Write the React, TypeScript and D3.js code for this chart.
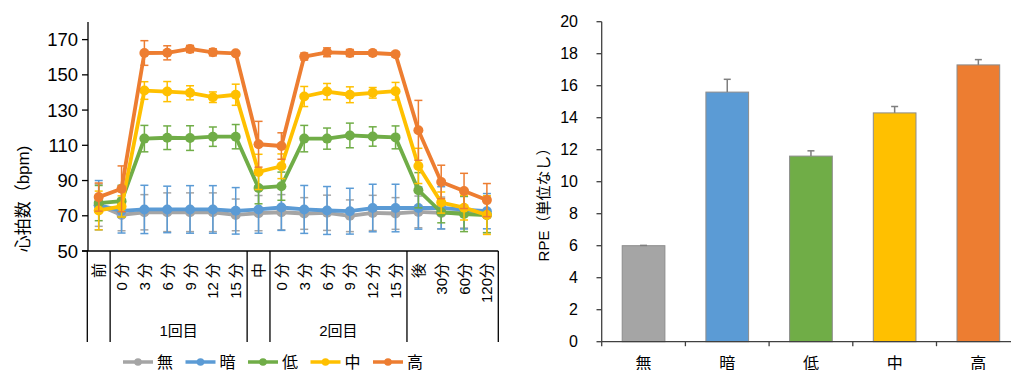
import React from "react";
import * as d3 from "d3";

// x categories of the heart-rate chart
const timeLabels = ["前", "0 分", "3 分", "6 分", "9 分", "12 分", "15 分", "中", "0 分", "3 分", "6 分", "9 分", "12 分", "15 分", "後", "30分", "60分", "120分"];
const groupLabels = ["", "1回目", "", "2回目", ""];
const groupSizes = [1, 6, 1, 6, 4];

const seriesNames = ["無", "暗", "低", "中", "高"];
const seriesColors = ["#A5A5A5", "#5B9BD5", "#70AD47", "#FFC000", "#ED7D31"];

// heart rate (bpm), mean and error
const hrNone = [76, 70.5, 72, 72, 72, 72, 70.5, 71.5, 72, 71.3, 71.7, 70, 71.6, 71.3, 72.2, 71.6, 72, 70.4];
const hrNoneErr = [12, 9, 10, 11, 11, 11, 9, 10, 10, 9, 10, 9, 10, 9, 9, 9, 9, 10];
const hrDark = [76, 72.8, 73.6, 73.6, 73.6, 73.6, 72.8, 73.6, 74.7, 73.6, 73.0, 72.6, 74.4, 74.4, 74.4, 74.5, 73.5, 72.6];
const hrDarkErr = [14, 12.6, 13.7, 13.2, 13.5, 13.5, 13.2, 13.5, 13, 13.6, 13.6, 13, 13.5, 13.5, 12, 12, 11, 10];
const hrLow = [77.2, 78.3, 113.8, 114.3, 114.1, 114.9, 114.9, 85.8, 86.8, 113.8, 113.8, 115.6, 115.0, 114.5, 84.5, 72, 71, 70.4];
const hrLowErr = [10, 9, 7.5, 6.7, 7, 5.5, 6.9, 9, 8, 7.5, 6, 7, 5.5, 6.5, 10, 6, 10, 10];
const hrMid = [73.0, 75.3, 141.1, 140.5, 139.8, 137.3, 138.7, 94.9, 98.1, 137.7, 140.5, 138.7, 139.8, 140.7, 98.3, 77.5, 74.6, 70.4];
const hrMidErr = [11, 6, 5, 5.7, 4, 3, 6, 10, 7, 5.7, 4.6, 4.5, 3, 5, 10, 6, 7, 11];
const hrHigh = [80.6, 85.3, 162.4, 162.5, 164.7, 162.8, 162.2, 110.6, 109.6, 160.4, 162.8, 162.4, 162.4, 161.7, 118.5, 89.2, 84.1, 78.9];
const hrHighErr = [8, 13, 7, 4, 2, 2, 1, 13, 7.5, 2, 2.5, 2, 1.5, 1.5, 17, 9.5, 10, 9.4];

const hrTicks = [50, 70, 90, 110, 130, 150, 170];

// RPE bar chart
const rpeMeans = [6.0, 15.6, 11.6, 14.3, 17.3];
const rpeErr = [0.02, 0.8, 0.33, 0.4, 0.33];
const rpeTicks = [0, 2, 4, 6, 8, 10, 12, 14, 16, 18, 20];

const font = "'Liberation Sans', 'Noto Sans CJK JP', sans-serif";

export default function App() {
  const hrSeries = [
    { m: hrNone, e: hrNoneErr },
    { m: hrDark, e: hrDarkErr },
    { m: hrLow, e: hrLowErr },
    { m: hrMid, e: hrMidErr },
    { m: hrHigh, e: hrHighErr },
  ];

  // left chart
  const x = d3.scaleBand<number>().domain(d3.range(timeLabels.length)).range([87.3, 498.3]);
  const cx = (i: number) => (x(i) as number) + x.bandwidth() / 2;
  const y = d3.scaleLinear().domain([50, 180]).range([251, 22]);
  const line = d3.line<number>().x((d, i) => cx(i)).y((d) => y(d));

  const bounds: number[] = [0];
  groupSizes.forEach((s, i) => bounds.push(bounds[i] + s));
  const bx = (k: number) => 87.3 + k * x.step();

  // right chart
  const xb = d3.scaleBand<string>().domain(seriesNames).range([601.7, 1020.2]).paddingInner(0.49).paddingOuter(0.245);
  const yb = d3.scaleLinear().domain([0, 20]).range([341.7, 21.7]);

  return (
    <svg width={1011} height={370} style={{ position: "absolute", left: 0, top: 0, background: "#fff" }} fontFamily={font}>
      {/* left y axis */}
      <line x1={88} x2={88} y1={y(180)} y2={y(50)} stroke="#000" strokeWidth={1.3} />
      {hrTicks.map((t) => (
        <g key={t}>
          <line x1={82} x2={88} y1={y(t)} y2={y(t)} stroke="#000" strokeWidth={1.3} />
          <text x={78} y={y(t)} textAnchor="end" dominantBaseline="central" fontSize={18.5} fill="#000">{t}</text>
        </g>
      ))}
      <text transform={`translate(23,199) rotate(-90)`} textAnchor="middle" dominantBaseline="central" fontSize={17} fill="#000">心拍数（bpm)</text>

      {/* left x axis with multi-level labels */}
      <line x1={82} x2={bx(18)} y1={251} y2={251} stroke="#000" strokeWidth={1.3} />
      {bounds.map((k) => (
        <line key={k} x1={bx(k)} x2={bx(k)} y1={251} y2={342} stroke="#000" strokeWidth={1.3} />
      ))}
      {timeLabels.map((l, i) => (
        <text key={i} transform={`translate(${cx(i)},263) rotate(-90)`} textAnchor="end" dominantBaseline="central" fontSize={15} fill="#000">{l}</text>
      ))}
      {groupLabels.map((g, i) =>
        g ? (
          <text key={i} x={(bx(bounds[i]) + bx(bounds[i + 1])) / 2} y={330} textAnchor="middle" dominantBaseline="central" fontSize={15} fill="#000">{g}</text>
        ) : null
      )}

      {/* series */}
      {hrSeries.map((s, si) => (
        <g key={si}>
          {s.m.map((v, i) => (
            <g key={i} stroke={seriesColors[si]} strokeWidth={1.5}>
              <line x1={cx(i)} x2={cx(i)} y1={y(v - s.e[i])} y2={y(v + s.e[i])} />
              <line x1={cx(i) - 4} x2={cx(i) + 4} y1={y(v - s.e[i])} y2={y(v - s.e[i])} />
              <line x1={cx(i) - 4} x2={cx(i) + 4} y1={y(v + s.e[i])} y2={y(v + s.e[i])} />
            </g>
          ))}
          <path d={line(s.m) as string} fill="none" stroke={seriesColors[si]} strokeWidth={3.8} strokeLinejoin="round" />
          {s.m.map((v, i) => (
            <circle key={i} cx={cx(i)} cy={y(v)} r={5} fill={seriesColors[si]} />
          ))}
        </g>
      ))}

      {/* legend */}
      {seriesNames.map((n, i) => {
        const lx = 123 + i * 62.5;
        return (
          <g key={n}>
            <line x1={lx} x2={lx + 30} y1={362} y2={362} stroke={seriesColors[i]} strokeWidth={3.5} />
            <circle cx={lx + 15} cy={362} r={3.8} fill={seriesColors[i]} />
            <text x={lx + 34} y={362} dominantBaseline="central" fontSize={16} fill="#000">{n}</text>
          </g>
        );
      })}

      {/* right chart axes */}
      <line x1={601.7} x2={601.7} y1={yb(20)} y2={yb(0)} stroke="#404040" strokeWidth={1.3} />
      {rpeTicks.map((t) => (
        <g key={t}>
          <line x1={596.5} x2={601.7} y1={yb(t)} y2={yb(t)} stroke="#404040" strokeWidth={1.3} />
          <text x={578} y={yb(t)} textAnchor="end" dominantBaseline="central" fontSize={16} fill="#000">{t}</text>
        </g>
      ))}
      <text transform={`translate(543,201) rotate(-90)`} textAnchor="middle" dominantBaseline="central" fontSize={15} fill="#000">RPE（単位なし）</text>

      {rpeMeans.map((v, i) => {
        const bxx = xb(seriesNames[i]) as number;
        const mid = bxx + xb.bandwidth() / 2;
        return (
          <g key={i}>
            <rect x={bxx} y={yb(v)} width={xb.bandwidth()} height={yb(0) - yb(v)} fill={seriesColors[i]} stroke="#8c8c8c" strokeWidth={1} />
            <line x1={mid} x2={mid} y1={yb(v)} y2={yb(v + rpeErr[i])} stroke="#7f7f7f" strokeWidth={1.5} />
            <line x1={mid - 3.5} x2={mid + 3.5} y1={yb(v + rpeErr[i])} y2={yb(v + rpeErr[i])} stroke="#7f7f7f" strokeWidth={1.5} />
          </g>
        );
      })}
      <line x1={601.7} x2={1011} y1={yb(0)} y2={yb(0)} stroke="#404040" strokeWidth={1.3} />
      {d3.range(seriesNames.length + 1).map((k) => {
        const tx = 601.7 + k * xb.step();
        return <line key={k} x1={tx} x2={tx} y1={yb(0)} y2={yb(0) + 4.5} stroke="#404040" strokeWidth={1.3} />;
      })}
      {seriesNames.map((n) => (
        <text key={n} x={(xb(n) as number) + xb.bandwidth() / 2} y={369} textAnchor="middle" fontSize={16} fill="#000">{n}</text>
      ))}
    </svg>
  );
}
